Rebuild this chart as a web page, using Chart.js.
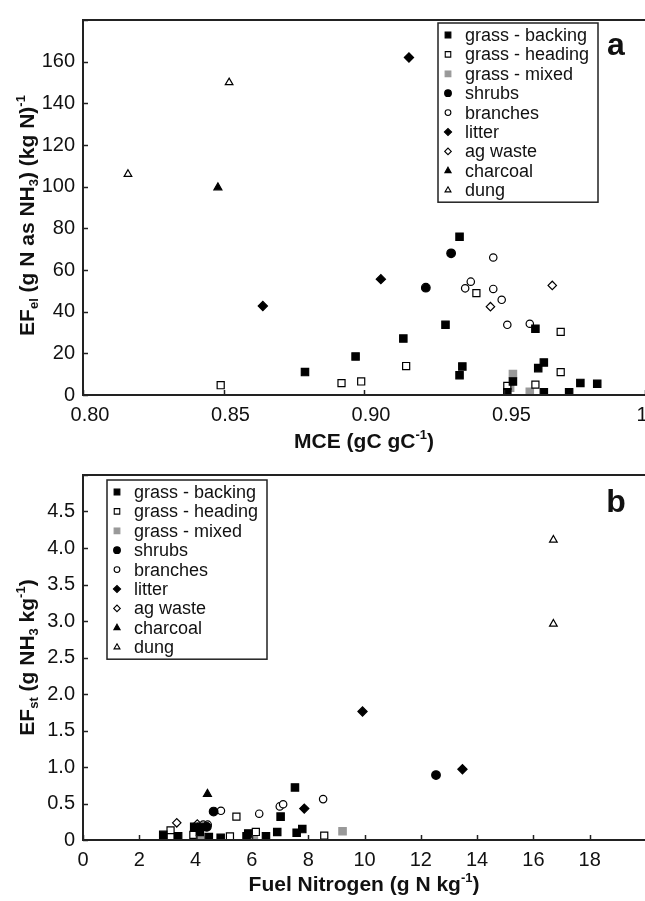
<!DOCTYPE html>
<html>
<head>
<meta charset="utf-8">
<script src="https://cdn.jsdelivr.net/npm/chart.js@4.4.0/dist/chart.umd.min.js"></script>
<style>
  html, body { margin: 0; padding: 0; background: #fff; overflow: hidden; width: 645px; height: 901px; }
  canvas { position: absolute; left: 0; }
  #chartA { top: 0; }
  #chartB { top: 455px; }
</style>
</head>
<body>
<canvas id="chartA" width="680" height="455"></canvas>
<canvas id="chartB" width="680" height="446"></canvas>
<script>
const categories = ['grass - backing', 'grass - heading', 'grass - mixed', 'shrubs', 'branches', 'litter', 'ag waste', 'charcoal', 'dung'];

// panel a: [MCE, EFel]
const aBacking  = [[0.879, 11], [0.897, 18.5], [0.914, 27.1], [0.929, 33.7], [0.934, 76], [0.935, 13.7], [0.934, 9.5], [0.953, 6.5], [0.951, 1.3], [0.961, 31.8], [0.962, 12.9], [0.964, 15.6], [0.964, 1.3], [0.973, 1.3], [0.977, 5.8], [0.983, 5.4]];
const aHeading  = [[0.849, 4.7], [0.892, 5.7], [0.899, 6.5], [0.915, 13.9], [0.940, 48.9], [0.951, 4.4], [0.961, 5.0], [0.970, 30.3], [0.970, 11.0]];
const aMixed    = [[0.953, 10.1], [0.952, 3.5], [0.959, 1.6]];
const aShrubs   = [[0.931, 68], [0.922, 51.5]];
const aBranches = [[0.946, 66], [0.938, 54.4], [0.936, 51.2], [0.946, 50.9], [0.949, 45.7], [0.951, 33.7], [0.959, 34.2]];
const aLitter   = [[0.864, 42.7], [0.906, 55.6], [0.916, 162]];
const aAgWaste  = [[0.945, 42.4], [0.967, 52.6]];
const aCharcoal = [[0.848, 99.6]];
const aDung     = [[0.816, 106], [0.852, 150]];

// panel b: [fuel N, EFst]
const bBacking  = [[2.85, 0.07], [3.38, 0.05], [3.95, 0.18], [4.21, 0.18], [4.15, 0.11], [4.47, 0.04], [4.89, 0.03], [5.81, 0.05], [5.87, 0.09], [6.5, 0.05], [6.9, 0.11], [7.02, 0.32], [7.53, 0.72], [7.59, 0.10], [7.79, 0.15]];
const bHeading  = [[3.11, 0.13], [3.11, 0.04], [3.92, 0.07], [5.22, 0.05], [5.45, 0.32], [6.14, 0.11], [8.57, 0.06]];
const bMixed    = [[4.18, 0.04], [6.07, 0.04], [9.22, 0.12]];
const bShrubs   = [[4.4, 0.18], [4.64, 0.39], [12.54, 0.89]];
const bBranches = [[4.27, 0.21], [4.43, 0.21], [4.9, 0.40], [6.26, 0.36], [6.99, 0.46], [7.11, 0.49], [8.53, 0.56]];
const bLitter   = [[7.86, 0.43], [9.93, 1.76], [13.48, 0.97]];
const bAgWaste  = [[3.33, 0.235], [4.06, 0.22]];
const bCharcoal = [[4.42, 0.63]];
const bDung     = [[16.71, 4.11], [16.71, 2.96]];

const xTicksA = [0.80, 1.0, 0.05];
const yTicksA = [0, 180, 20];
const xTicksB = [0, 20, 2];
const yTicksB = [0, 5, 0.5];

const FONT = '"Liberation Sans", Arial, sans-serif';
const INK = '#111';

const markers = [
  { style: 'rect', fill: '#000', line: '#000', r: 5.2 },
  { style: 'rect', fill: '#fff', line: '#000', r: 5.0 },
  { style: 'rect', fill: '#999', line: '#999', r: 5.2 },
  { style: 'circle', fill: '#000', line: '#000', r: 4.3 },
  { style: 'circle', fill: '#fff', line: '#000', r: 3.7 },
  { style: 'rectRot', fill: '#000', line: '#000', r: 4.6 },
  { style: 'rectRot', fill: '#fff', line: '#000', r: 4.2 },
  { style: 'triangle', fill: '#000', line: '#000', r: 4.6 },
  { style: 'triangle', fill: '#fff', line: '#000', r: 4.4 }
];

function buildDatasets(series) {
  return series.map((pts, i) => ({
    label: categories[i],
    data: pts.map(p => ({ x: p[0], y: p[1] })),
    pointStyle: markers[i].style,
    pointRadius: markers[i].r,
    backgroundColor: markers[i].fill,
    borderColor: markers[i].line,
    borderWidth: 1.2
  }));
}

function richText(ctx, parts, x, y, size, rotate) {
  ctx.save();
  ctx.translate(x, y);
  if (rotate) ctx.rotate(-Math.PI / 2);
  const small = Math.round(size * 0.62);
  const fontFor = p => 'bold ' + (p.sub || p.sup ? small : size) + 'px ' + FONT;
  let w = 0;
  parts.forEach(p => { ctx.font = fontFor(p); w += ctx.measureText(p.t).width; });
  let cx = -w / 2;
  ctx.fillStyle = INK;
  ctx.textBaseline = 'alphabetic';
  ctx.textAlign = 'left';
  parts.forEach(p => {
    ctx.font = fontFor(p);
    const dy = p.sub ? size * 0.18 : p.sup ? -size * 0.42 : 0;
    ctx.fillText(p.t, cx, dy);
    cx += ctx.measureText(p.t).width;
  });
  ctx.restore();
}

// frame, inward ticks, titles, legend and panel letter
const decorations = {
  id: 'decorations',
  afterDraw(chart, args, opts) {
    const { ctx, chartArea: a, scales: { x, y } } = chart;
    ctx.save();
    ctx.strokeStyle = '#222';
    ctx.lineWidth = 1.5;
    x.ticks.forEach((t, i) => {
      const px = Math.round(x.getPixelForTick(i)) + 0.5;
      ctx.beginPath(); ctx.moveTo(px, a.bottom); ctx.lineTo(px, a.bottom - 5); ctx.stroke();
    });
    y.ticks.forEach((t, i) => {
      const py = Math.round(y.getPixelForTick(i)) + 0.5;
      ctx.beginPath(); ctx.moveTo(a.left, py); ctx.lineTo(a.left + 5, py); ctx.stroke();
    });
    ctx.lineWidth = 2;
    ctx.beginPath();
    ctx.moveTo(a.right + 10, a.top); ctx.lineTo(a.left, a.top);
    ctx.lineTo(a.left, a.bottom); ctx.lineTo(a.right + 10, a.bottom);
    ctx.stroke();

    // legend
    const L = opts.legend;
    const rowH = 19.4;
    const n = chart.data.datasets.length;
    const h = 24 + rowH * (n - 1);
    ctx.fillStyle = '#fff';
    ctx.fillRect(L.x, L.y, 160, h);
    ctx.lineWidth = 1.5;
    ctx.strokeStyle = '#222';
    ctx.strokeRect(L.x, L.y, 160, h);
    ctx.font = '18px ' + FONT;
    ctx.textBaseline = 'middle';
    ctx.textAlign = 'left';
    chart.data.datasets.forEach((ds, i) => {
      const cy = L.y + 12 + i * rowH;
      ctx.fillStyle = ds.backgroundColor;
      ctx.strokeStyle = ds.borderColor;
      ctx.lineWidth = 1.1;
      Chart.helpers.drawPoint(ctx, { pointStyle: ds.pointStyle, radius: ds.pointRadius * 0.78, borderWidth: 1.1 }, L.x + 10, cy);
      ctx.fillStyle = INK;
      ctx.fillText(ds.label, L.x + 27, cy + 1);
    });

    // axis titles
    richText(ctx, opts.xTitle, 364, opts.xTitleY, 21, false);
    richText(ctx, opts.yTitle, 34, (a.top + a.bottom) / 2 + opts.yShift, 21, true);

    // panel letter
    ctx.font = 'bold 32px ' + FONT;
    ctx.fillStyle = INK;
    ctx.textAlign = 'center';
    ctx.textBaseline = 'alphabetic';
    ctx.fillText(opts.letter, 616, opts.letterY);
    ctx.restore();
  }
};

function makeChart(id, series, xr, yr, fmtX, fmtY, pad, xH, labelShift, deco) {
  return new Chart(document.getElementById(id), {
    type: 'scatter',
    data: { datasets: buildDatasets(series) },
    options: {
      responsive: false,
      animation: false,
      events: [],
      layout: { padding: { top: pad.top, right: pad.right, left: 0, bottom: 0 } },
      plugins: { legend: { display: false }, tooltip: { enabled: false }, decorations: deco },
      scales: {
        x: {
          type: 'linear', min: xr[0], max: xr[1],
          grid: { display: false, drawTicks: false },
          border: { display: false },
          afterFit: s => { s.height = xH; },
          ticks: { stepSize: xr[2], padding: 8, labelOffset: labelShift, color: INK, font: { family: FONT, size: 20 }, maxRotation: 0, callback: fmtX }
        },
        y: {
          type: 'linear', min: yr[0], max: yr[1],
          grid: { display: false, drawTicks: false },
          border: { display: false },
          afterFit: s => { s.width = 83; },
          ticks: { stepSize: yr[2], padding: 8, color: INK, font: { family: FONT, size: 20 }, callback: fmtY }
        }
      }
    },
    plugins: [decorations]
  });
}

makeChart('chartA',
  [aBacking, aHeading, aMixed, aShrubs, aBranches, aLitter, aAgWaste, aCharcoal, aDung],
  xTicksA, yTicksA,
  v => Math.abs(v - 1) < 1e-9 ? '1\u2002\u2002' : v.toFixed(2),
  v => v >= 179 ? '' : String(Math.round(v)),
  { top: 14, right: 35 }, 60, 7,
  {
    legend: { x: 438, y: 23 },
    letter: 'a', letterY: 55,
    xTitleY: 448,
    yShift: 8,
    xTitle: [{ t: 'MCE (gC gC' }, { t: '-1', sup: true }, { t: ')' }],
    yTitle: [{ t: 'EF' }, { t: 'el', sub: true }, { t: ' (g N as NH' }, { t: '3', sub: true }, { t: ') (kg N)' }, { t: '-1', sup: true }]
  });

makeChart('chartB',
  [bBacking, bHeading, bMixed, bShrubs, bBranches, bLitter, bAgWaste, bCharcoal, bDung],
  xTicksB, yTicksB,
  v => v >= 19.9 ? '' : String(Math.round(v)),
  v => v >= 4.99 ? '' : (v === 0 ? '0' : v.toFixed(1)),
  { top: 9, right: 34 }, 61, 0,
  {
    legend: { x: 107, y: 25 },
    letter: 'b', letterY: 57,
    xTitleY: 436,
    yShift: 0,
    xTitle: [{ t: 'Fuel Nitrogen (g N kg' }, { t: '-1', sup: true }, { t: ')' }],
    yTitle: [{ t: 'EF' }, { t: 'st', sub: true }, { t: ' (g NH' }, { t: '3', sub: true }, { t: ' kg' }, { t: '-1', sup: true }, { t: ')' }]
  });
</script>
</body>
</html>
